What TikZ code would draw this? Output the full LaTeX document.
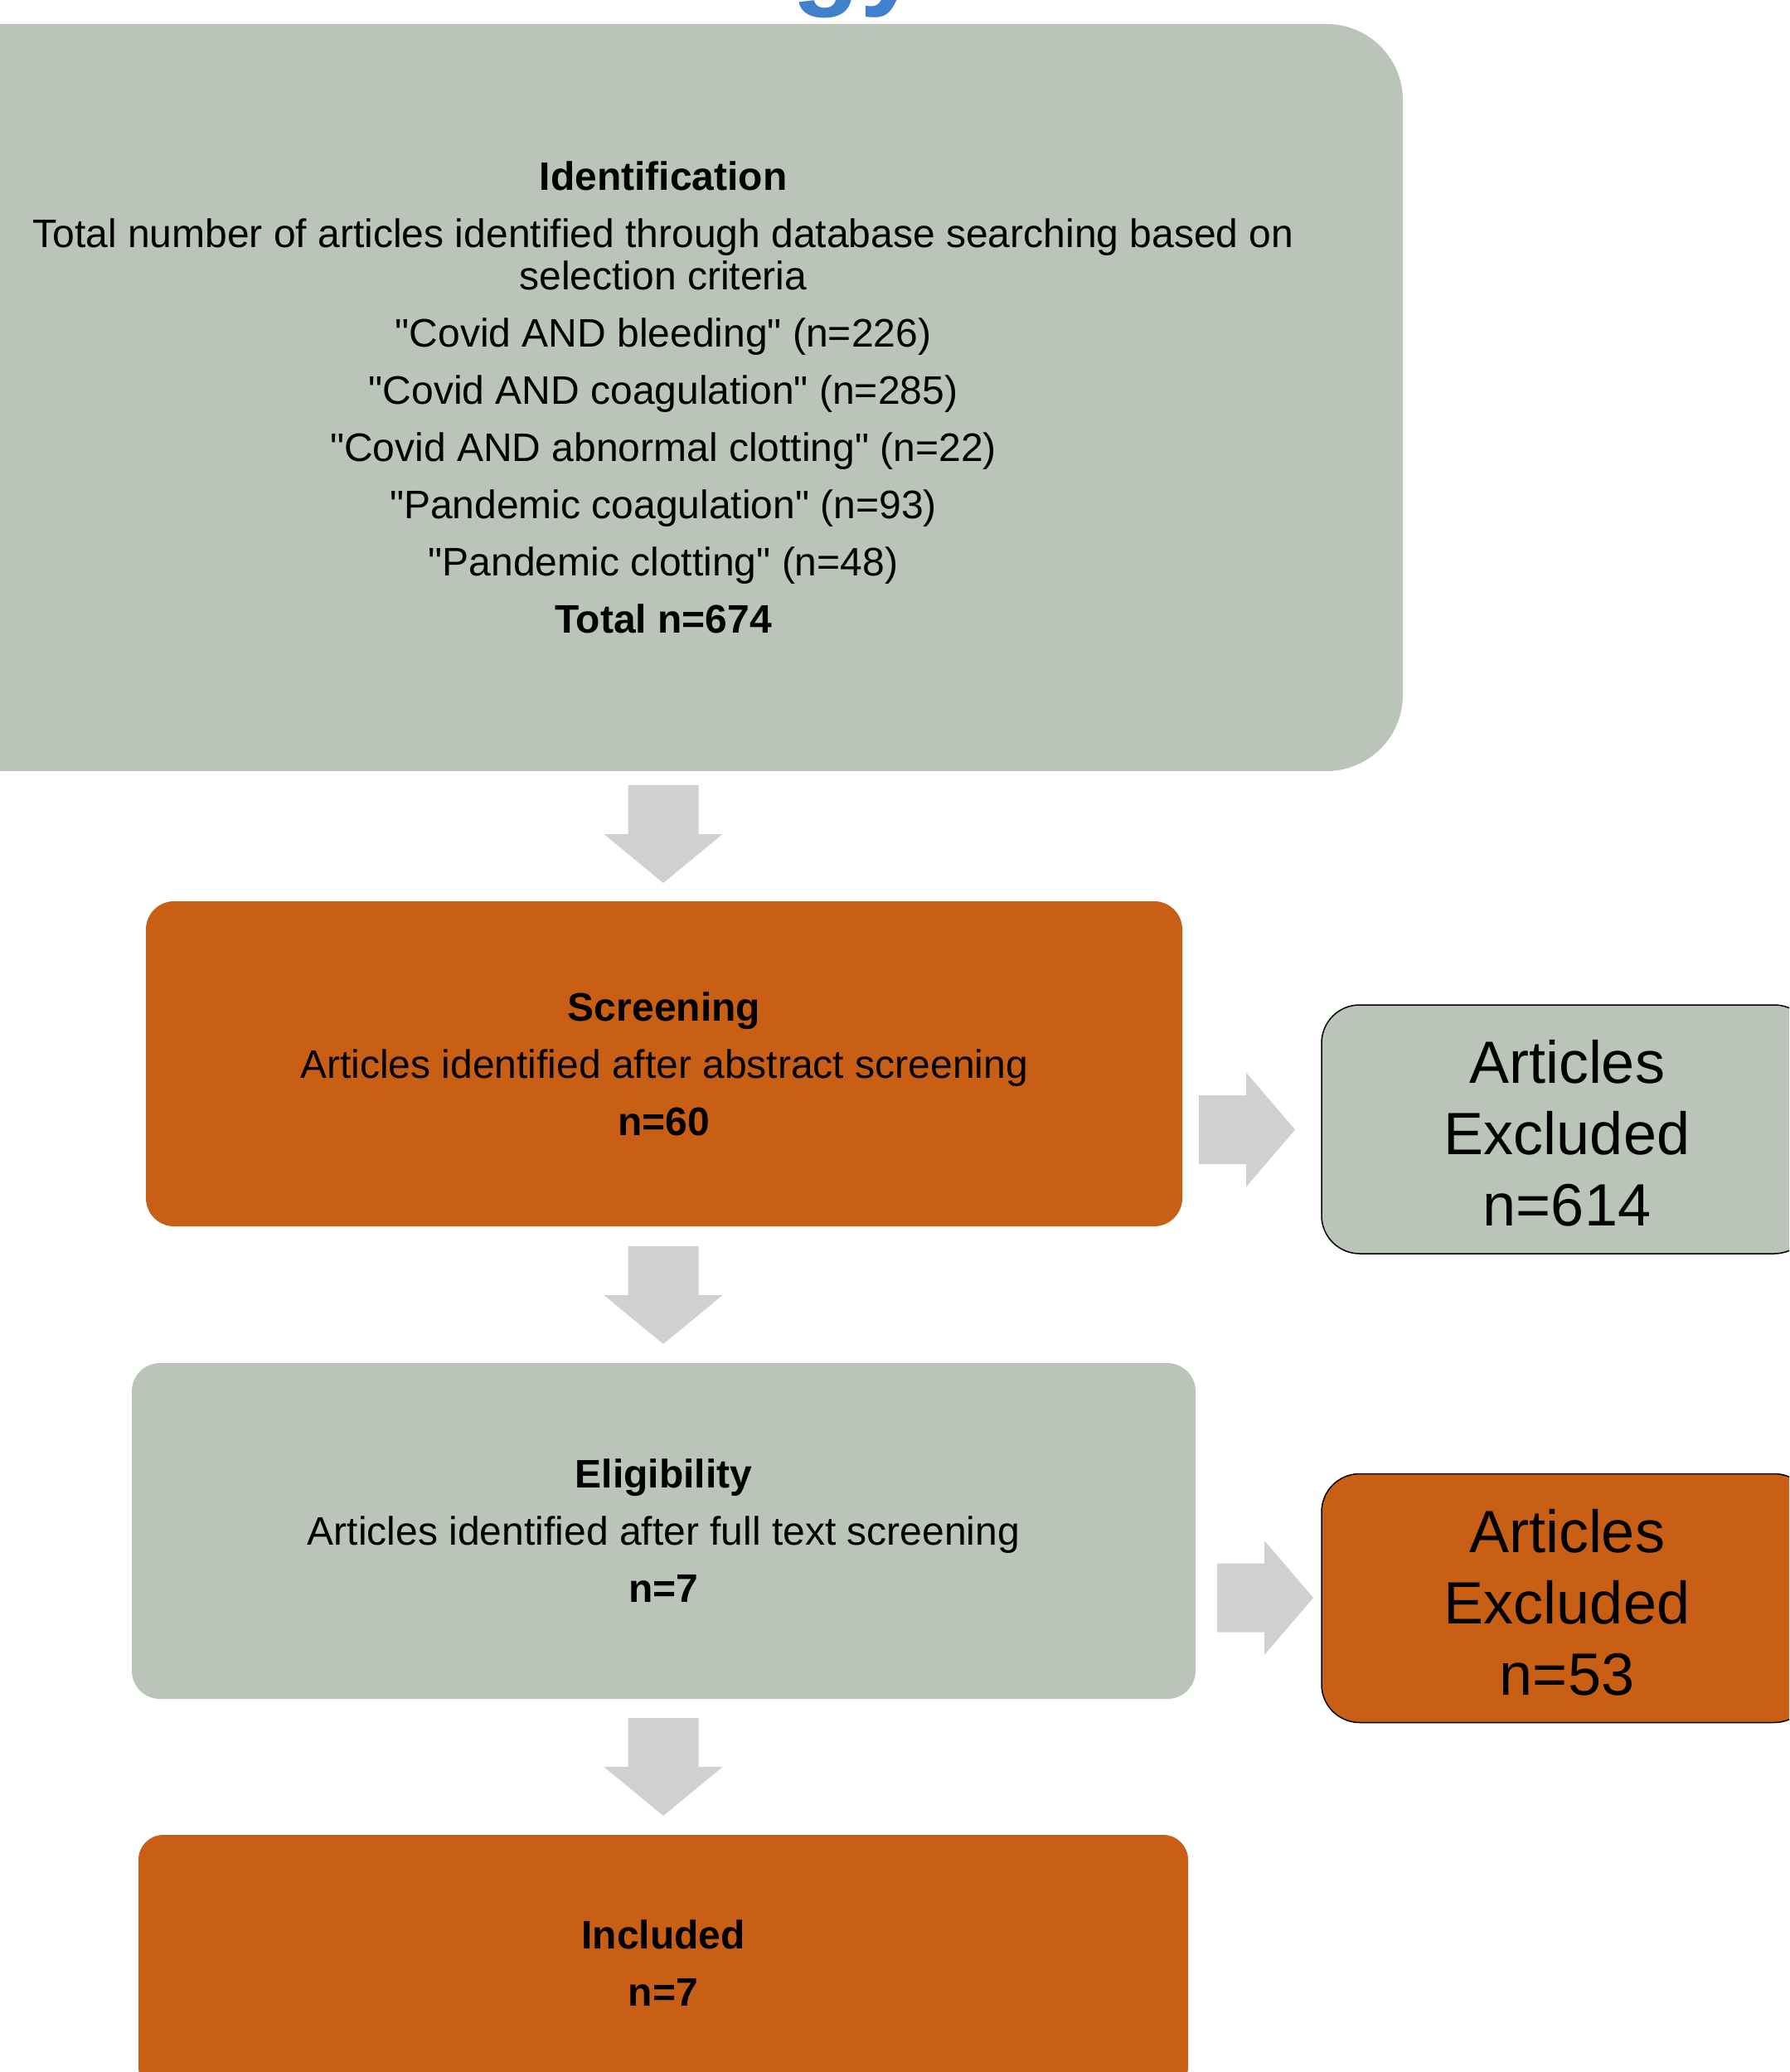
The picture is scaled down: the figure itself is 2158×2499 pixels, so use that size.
\documentclass[tikz,border=0pt]{standalone}
\usepackage{fontspec}
\setmainfont{Liberation Sans}
\newfontfamily\plainsans{Liberation Sans}
\definecolor{sage}{RGB}{186,196,185}
\definecolor{rust}{RGB}{201,95,20}
\definecolor{arrowgrey}{RGB}{208,208,207}
\definecolor{titleblue}{RGB}{64,128,204}
\tikzset{
  stagebox/.style={rectangle, inner sep=0pt, align=center, text=black,
    font=\plainsans\fontsize{24pt}{25.5pt}\selectfont},
  exclbox/.style={rectangle, draw=black, line width=0.75pt, rounded corners=23pt,
    inner sep=0pt, minimum width=296pt, minimum height=150pt},
  excltext/.style={inner sep=0pt, align=center, text=black,
    font=\plainsans\fontsize{36pt}{43pt}\selectfont},
  downarrow/.pic={\fill[arrowgrey] (-42.5,0) -- (42.5,0) -- (42.5,59) -- (71.5,59)
    -- (0,118) -- (-71.5,59) -- (-42.5,59) -- cycle;},
  rightarrow/.pic={\fill[arrowgrey] (0,-41.5) -- (57,-41.5) -- (57,-69) -- (116,0)
    -- (57,69) -- (57,41.5) -- (0,41.5) -- cycle;}
}
\begin{document}
\begin{tikzpicture}[x=0.5pt,y=-0.5pt]
\useasboundingbox (0,0) rectangle (2158,2499);
\clip (0,0) rectangle (2158,2499);
\fill[white] (0,0) rectangle (2158,2499);

\node[anchor=base west, inner sep=0pt, text=titleblue,
  font=\plainsans\bfseries\fontsize{67pt}{70pt}\selectfont] (title) at (955,-6) {gy};

\node[stagebox, fill=sage, rounded corners=46pt, minimum width=892pt,
  minimum height=450.5pt] (ident) at (800,479.5)
  {\textbf{Identification}\\[9pt]
   Total number of articles identified through database searching based on\\
   selection criteria\\[9pt]
   "Covid AND bleeding" (n=226)\\[9pt]
   "Covid AND coagulation" (n=285)\\[9pt]
   "Covid AND abnormal clotting" (n=22)\\[9pt]
   "Pandemic coagulation" (n=93)\\[9pt]
   "Pandemic clotting" (n=48)\\[9pt]
   \textbf{Total n=674}};

\node[stagebox, fill=rust, rounded corners=17pt, minimum width=625pt,
  minimum height=196pt] (screen) at (801,1283)
  {\textbf{Screening}\\[9pt]
   Articles identified after abstract screening\\[9pt]
   \textbf{n=60}};

\node[stagebox, fill=sage, rounded corners=17pt, minimum width=641.5pt,
  minimum height=202.5pt] (elig) at (800.5,1846.5)
  {\textbf{Eligibility}\\[9pt]
   Articles identified after full text screening\\[9pt]
   \textbf{n=7}};

\node[stagebox, fill=rust, rounded corners=15pt, minimum width=633pt,
  minimum height=155pt] (incl) at (800,2368)
  {\textbf{Included}\\[9pt]
   \textbf{n=7}};

\node[exclbox, fill=sage] (excl1) at (1890,1362) {};
\node[excltext] (excl1text) at ([yshift=-2.5pt]excl1.center) {Articles\\Excluded\\n=614};
\node[exclbox, fill=rust] (excl2) at (1890,1927.5) {};
\node[excltext] (excl2text) at ([yshift=-2.5pt]excl2.center) {Articles\\Excluded\\n=53};

\pic at (800,947) {downarrow};
\pic at (800,1503) {downarrow};
\pic at (800,2072) {downarrow};
\pic at (1446,1362.5) {rightarrow};
\pic at (1468,1927) {rightarrow};
\end{tikzpicture}
\end{document}
